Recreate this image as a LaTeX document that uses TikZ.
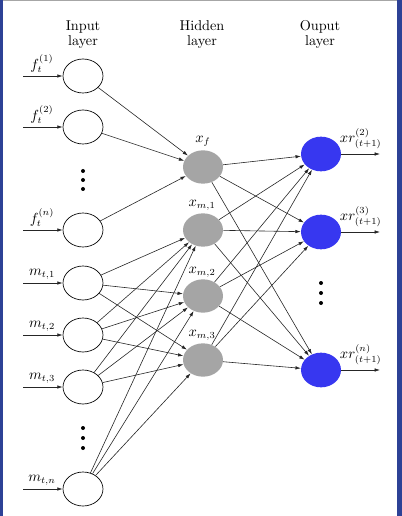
\documentclass[tikz,border=0pt]{standalone}
\usetikzlibrary{shapes.geometric,arrows.meta}
\definecolor{frameblue}{RGB}{45,65,150}
\definecolor{hgray}{RGB}{165,165,165}
\definecolor{oblue}{RGB}{55,55,240}
\begin{document}
\begin{tikzpicture}[x=0.75pt,y=-0.75pt,
  every node/.style={font=\fontsize{10.7pt}{12.5pt}\selectfont},
  inp/.style={draw, ellipse, minimum width=30pt, minimum height=25.5pt, inner sep=0pt, line width=0.5pt},
  hid/.style={ellipse, fill=hgray, minimum width=30pt, minimum height=25pt, inner sep=0pt},
  outp/.style={ellipse, fill=oblue, minimum width=30pt, minimum height=26pt, inner sep=0pt},
  conn/.style={-{Latex[length=4pt,width=2.6pt]}, line width=0.45pt, draw=black!85},
  title/.style={align=center, inner sep=0pt, text depth=0pt},
  inlbl/.style={anchor=south, inner sep=0.5pt},
  outlbl/.style={anchor=south west, inner sep=0.5pt},
  hidlbl/.style={inner sep=0pt},
  dotmark/.style={circle, fill=black, inner sep=0pt, minimum size=3pt}
]
\useasboundingbox (0,0) rectangle (402,516);
% frame
\fill[frameblue] (0,0) rectangle (3,516);
\fill[frameblue] (397,0) rectangle (402,516);
\fill[black!35] (3,0) rectangle (397,1);

% titles
\node[title] (tin) at (83,33) {Input\\[-1pt]layer};
\node[title] (thid) at (202,33) {Hidden\\[-1pt]layer};
\node[title] (tout) at (320,33) {Ouput\\[-1pt]layer};

% input nodes
\node[inp] (f1) at (83,76) {};
\node[inp] (f2) at (83,127) {};
\node[inp] (fn) at (83,230) {};
\node[inp] (m1) at (83,283) {};
\node[inp] (m2) at (83,335) {};
\node[inp] (m3) at (83,387) {};
\node[inp] (mn) at (83,489) {};

% hidden nodes
\node[hid] (hf) at (203,167) {};
\node[hid] (h1) at (203,230) {};
\node[hid] (h2) at (203,296) {};
\node[hid] (h3) at (203,360) {};

% output nodes
\node[outp] (o2) at (321,154) {};
\node[outp] (o3) at (321,232) {};
\node[outp] (on) at (321,370) {};

% dots
\node[dotmark] (d1) at (83,171) {};
\node[dotmark] (d2) at (83,180) {};
\node[dotmark] (d3) at (83,189) {};
\node[dotmark] (d4) at (83,428) {};
\node[dotmark] (d5) at (83,438) {};
\node[dotmark] (d6) at (83,448) {};
\node[dotmark] (d7) at (321,283) {};
\node[dotmark] (d8) at (321,293) {};
\node[dotmark] (d9) at (321,303) {};

% input arrows and labels
\foreach \n/\y/\t in {f1/76/{f_t^{(1)}}, f2/127/{f_t^{(2)}}, fn/230/{f_t^{(n)}}, m1/283/{m_{t,1}}, m2/335/{m_{t,2}}, m3/387/{m_{t,3}}, mn/489/{m_{t,n}}}{
  \coordinate (s\n) at (23,\y);
  \draw[conn] (s\n) -- (\n);
  \node[inlbl] (l\n) at (42,\y-3) {$\t$};
}

% hidden labels
\node[hidlbl] (lhf) at (203,141) {$x_f$};
\node[hidlbl] (lh1) at (202,205) {$x_{m,1}$};
\node[hidlbl] (lh2) at (202,272) {$x_{m,2}$};
\node[hidlbl] (lh3) at (202,335) {$x_{m,3}$};

% output arrows and labels
\foreach \n/\y/\s in {o2/154/2, o3/232/3, on/370/n}{
  \coordinate (e\n) at (380,\y);
  \draw[conn] (\n) -- (e\n);
  \node[outlbl] (l\n) at (339,\y-4) {$xr^{(\s)}_{(t+1)}$};
}

% input -> hidden
\foreach \a in {f1,f2,fn}{ \draw[conn] (\a) -- (hf); }
\foreach \a in {m1,m2,m3,mn}{
  \foreach \b in {h1,h2,h3}{ \draw[conn] (\a) -- (\b); }
}
% hidden -> output
\foreach \a in {hf,h1,h2,h3}{
  \foreach \b in {o2,o3,on}{ \draw[conn] (\a) -- (\b); }
}
\end{tikzpicture}
\end{document}
